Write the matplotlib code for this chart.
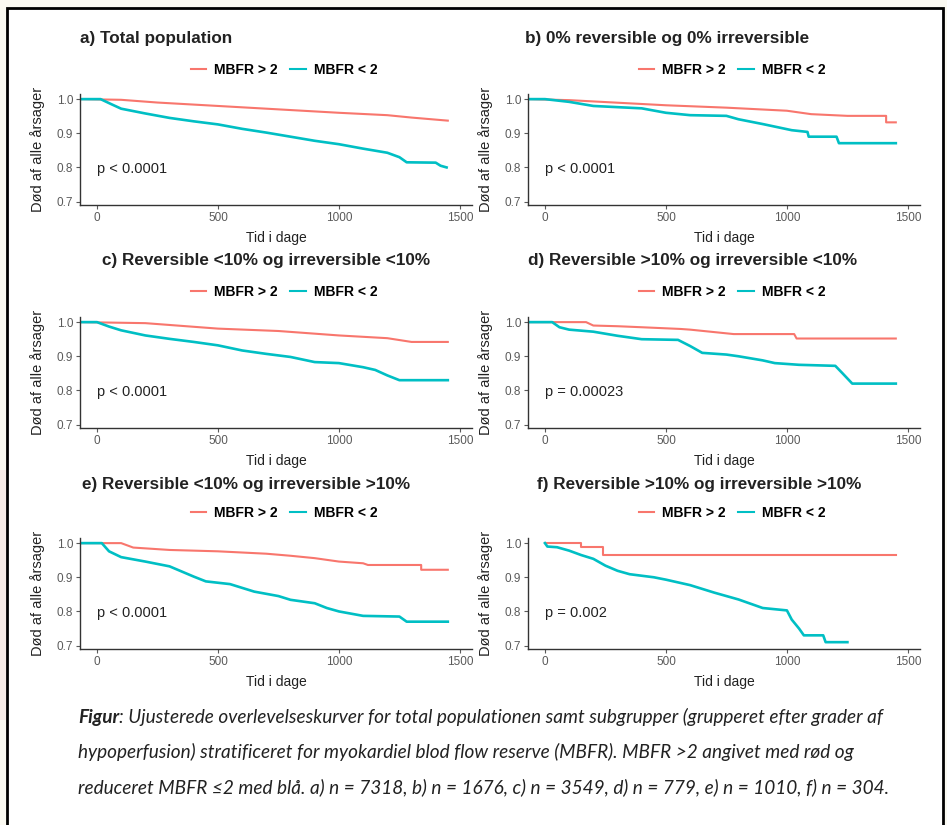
import matplotlib.pyplot as plt
from matplotlib.patches import Rectangle
from matplotlib.lines import Line2D

W, H = 947, 825
RED = '#F8766D'
TEAL = '#00BFC4'

titles = ['a) Total population',
          'b) 0% reversible og 0% irreversible',
          'c) Reversible <10% og irreversible <10%',
          'd) Reversible >10% og irreversible <10%',
          'e) Reversible <10% og irreversible >10%',
          'f) Reversible >10% og irreversible >10%']
pvals = ['p < 0.0001', 'p < 0.0001', 'p < 0.0001', 'p = 0.00023', 'p < 0.0001', 'p = 0.002']
legend_labels = ['MBFR > 2', 'MBFR < 2']
xticks = [0, 500, 1000, 1500]
yticks = [0.7, 0.8, 0.9, 1.0]

# survival curves (time in days, survival)
a_hi_t = [-65, 100, 250, 500, 750, 1000, 1200, 1300, 1450]
a_hi_s = [1.0, 0.998, 0.99, 0.98, 0.97, 0.96, 0.953, 0.946, 0.937]
a_lo_t = [-65, 15, 60, 100, 200, 300, 400, 500, 600, 700, 800, 900, 1000, 1100, 1200, 1250, 1280, 1400, 1420, 1445]
a_lo_s = [1.0, 1.0, 0.985, 0.972, 0.958, 0.945, 0.935, 0.926, 0.913, 0.902, 0.89, 0.878, 0.868, 0.855, 0.843, 0.83, 0.815, 0.814, 0.805, 0.80]

b_hi_t = [-65, 100, 500, 750, 1000, 1100, 1250, 1410, 1410, 1450]
b_hi_s = [1.0, 0.997, 0.982, 0.975, 0.966, 0.956, 0.951, 0.951, 0.932, 0.932]
b_lo_t = [-65, 0, 100, 200, 400, 500, 600, 750, 800, 900, 1000, 1020, 1085, 1090, 1205, 1215, 1450]
b_lo_s = [1.0, 1.0, 0.992, 0.98, 0.973, 0.96, 0.953, 0.951, 0.941, 0.927, 0.912, 0.909, 0.904, 0.89, 0.89, 0.871, 0.871]

c_hi_t = [-65, 200, 500, 750, 1000, 1200, 1300, 1450]
c_hi_s = [1.0, 0.997, 0.981, 0.974, 0.961, 0.953, 0.942, 0.942]
c_lo_t = [-65, 0, 50, 100, 200, 300, 400, 500, 600, 700, 800, 900, 1000, 1100, 1150, 1200, 1250, 1450]
c_lo_s = [1.0, 1.0, 0.987, 0.976, 0.961, 0.951, 0.942, 0.932, 0.917, 0.907, 0.898, 0.883, 0.88, 0.868, 0.86, 0.844, 0.83, 0.83]

d_hi_t = [-65, 170, 200, 300, 400, 560, 600, 780, 1030, 1040, 1450]
d_hi_s = [1.0, 1.0, 0.99, 0.988, 0.985, 0.98, 0.978, 0.965, 0.965, 0.952, 0.952]
d_lo_t = [-65, 30, 60, 100, 200, 300, 400, 550, 600, 650, 750, 800, 900, 950, 1050, 1200, 1230, 1270, 1450]
d_lo_s = [1.0, 1.0, 0.985, 0.978, 0.972, 0.96, 0.95, 0.948, 0.93, 0.91, 0.905, 0.9, 0.888, 0.88, 0.875, 0.872, 0.85, 0.82, 0.82]

e_hi_t = [-65, 100, 150, 300, 500, 700, 800, 900, 1000, 1100, 1120, 1340, 1340, 1450]
e_hi_s = [1.0, 1.0, 0.987, 0.98, 0.976, 0.969, 0.963, 0.956, 0.946, 0.941, 0.936, 0.936, 0.922, 0.922]
e_lo_t = [-65, 20, 50, 100, 200, 300, 400, 450, 550, 650, 750, 800, 900, 950, 1000, 1100, 1250, 1280, 1450]
e_lo_s = [1.0, 1.0, 0.976, 0.959, 0.946, 0.932, 0.902, 0.888, 0.88, 0.858, 0.845, 0.834, 0.824, 0.81, 0.80, 0.787, 0.785, 0.77, 0.77]

f_hi_t = [0, 150, 150, 240, 240, 1450]
f_hi_s = [1.0, 1.0, 0.988, 0.988, 0.965, 0.965]
f_lo_t = [0, 10, 50, 100, 150, 200, 250, 300, 350, 450, 500, 600, 700, 800, 900, 1000, 1020, 1050, 1070, 1150, 1160, 1250]
f_lo_s = [1.0, 0.99, 0.988, 0.978, 0.965, 0.954, 0.934, 0.919, 0.909, 0.9, 0.893, 0.877, 0.855, 0.835, 0.81, 0.803, 0.776, 0.75, 0.73, 0.73, 0.71, 0.71]

curves = [(a_hi_t, a_hi_s, a_lo_t, a_lo_s), (b_hi_t, b_hi_s, b_lo_t, b_lo_s),
          (c_hi_t, c_hi_s, c_lo_t, c_lo_s), (d_hi_t, d_hi_s, d_lo_t, d_lo_s),
          (e_hi_t, e_hi_s, e_lo_t, e_lo_s), (f_hi_t, f_hi_s, f_lo_t, f_lo_s)]

caption = ['Ujusterede overlevelseskurver for total populationen samt subgrupper (grupperet efter grader af',
           'hypoperfusion) stratificeret for myokardiel blod flow reserve (MBFR). MBFR >2 angivet med rød og',
           'reduceret MBFR \u22642 med blå. a) n = 7318, b) n = 1676, c) n = 3549, d) n = 779, e) n = 1010, f) n = 304.']

plt.rcParams['font.family'] = ['Liberation Sans', 'DejaVu Sans']

fig = plt.figure(figsize=(W / 100, H / 100), dpi=100, facecolor='#fbfaf2')
# faint pink tint on the left margin
fig.patches.append(Rectangle((0, 1 - 720 / H), 7 / W, 250 / H, transform=fig.transFigure,
                             facecolor='#f6ebe6', edgecolor='none', zorder=-11))
# white page with black frame, behind the axes
fig.patches.append(Rectangle((7 / W, 1 - 840 / H), 936 / W, 832 / H, transform=fig.transFigure,
                             facecolor='white', edgecolor='black', lw=2, zorder=-10))

col_left = [80, 528]
row_top = [94, 317, 538]
title_pos = [(80, 38), (525, 38), (102, 261), (528, 261), (82, 484), (537, 484)]
leg_pos = [(284, 70), (732, 70), (284, 292), (732, 292), (284, 513), (732, 513)]

for i in range(6):
    r, c = divmod(i, 2)
    ax = fig.add_axes([col_left[c] / W, 1 - (row_top[r] + 111) / H, 392 / W, 111 / H])
    ax.set_zorder(1)
    ax.patch.set_alpha(0)
    hi_t, hi_s, lo_t, lo_s = curves[i]
    ax.plot(hi_t, hi_s, color=RED, lw=1.5)
    ax.plot(lo_t, lo_s, color=TEAL, lw=1.9)
    ax.set_xlim(-70, 1550)
    ax.set_ylim(0.69, 1.015)
    ax.set_xticks(xticks)
    ax.set_yticks(yticks)
    ax.set_yticklabels(['%.1f' % v for v in yticks])
    for s in ['top', 'right']:
        ax.spines[s].set_visible(False)
    for s in ['left', 'bottom']:
        ax.spines[s].set_color('#333333')
        ax.spines[s].set_linewidth(1.0)
    ax.tick_params(labelsize=8.5, colors='#5a5a5a', length=3, width=0.8, pad=2)
    ax.set_xlabel('Tid i dage', fontsize=10, color='#222222')
    ax.set_ylabel('Død af alle årsager', fontsize=10.5, color='#222222')
    ax.xaxis.set_label_coords(0.5, -0.23)
    ax.yaxis.set_label_coords(-0.09, 0.5)
    ax.text(0, 0.795, pvals[i], fontsize=10.5, color='#222222', ha='left', va='center')

    tx, ty = title_pos[i]
    fig.text(tx / W, 1 - ty / H, titles[i], fontsize=12.3, fontweight='bold', color='#222222',
             ha='left', va='center')
    handles = [Line2D([], [], color=RED, lw=1.5), Line2D([], [], color=TEAL, lw=1.5)]
    lx, ly = leg_pos[i]
    fig.legend(handles, legend_labels, loc='center', bbox_to_anchor=(lx / W, 1 - ly / H), ncol=2,
               frameon=False, handlelength=1.1, handletextpad=0.6, columnspacing=0.9,
               prop={'size': 10, 'weight': 'bold'})

# caption
renderer = fig.canvas.get_renderer()
cap_y = [717, 752, 787]
cap_fs = 13.7
t0 = fig.text(78 / W, 1 - cap_y[0] / H, 'Figur', fontsize=cap_fs, fontweight='bold', fontstyle='italic',
              family='Lato', color='#222222', va='center')
bb = t0.get_window_extent(renderer)
fig.text(bb.x1 / W, 1 - cap_y[0] / H, ': ' + caption[0], fontsize=cap_fs, fontstyle='italic',
         family='Lato', color='#222222', va='center')
for k in (1, 2):
    fig.text(78 / W, 1 - cap_y[k] / H, caption[k], fontsize=cap_fs, fontstyle='italic',
             family=['Lato', 'DejaVu Sans'], color='#222222', va='center')

fig.savefig('out.png', dpi=100, facecolor=fig.get_facecolor())
